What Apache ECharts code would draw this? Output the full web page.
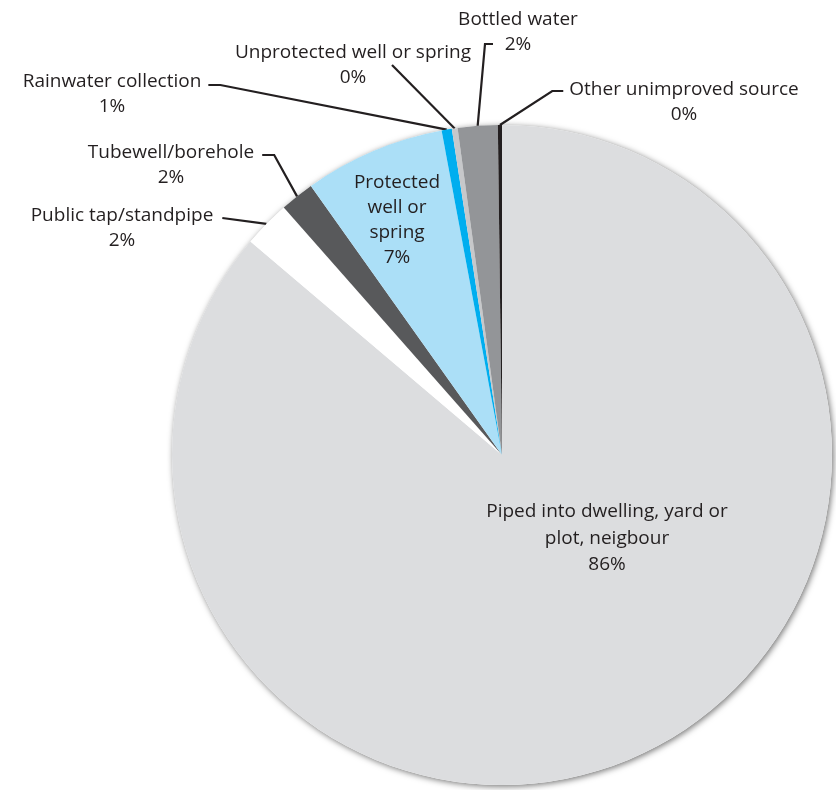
<!DOCTYPE html>
<html><head><meta charset="utf-8">
<script src="https://cdn.jsdelivr.net/npm/echarts@6/dist/echarts.min.js"></script>
<style>html,body{margin:0;padding:0;background:#fff}#c{width:836px;height:790px}</style>
</head><body><div id="c"></div>
<script>
// ---- data ----
const categories = [
  'Piped into dwelling, yard or\nplot, neigbour',
  'Public tap/standpipe',
  'Tubewell/borehole',
  'Protected\nwell or\nspring',
  'Rainwater collection',
  'Unprotected well or spring',
  'Bottled water',
  'Other unimproved source'
];
const values = [86.2, 2.3, 1.67, 6.9, 0.5, 0.28, 1.95, 0.2];
const percentLabels = ['86%', '2%', '2%', '7%', '1%', '0%', '2%', '0%'];

// ---- style / layout (kept apart from data) ----
const colors = ['#dcdddf', '#ffffff', '#58595b', '#abdff7', '#00aeef', '#c7c8ca', '#939598', '#231f20'];
const insideIdx = [0, 3];
const labelCentres = [[607, 512], [122, 216], [171, 153], [397, 183], [112, 82], [353, 53], [518, 20], [684, 90]];
const leaders = [
  null,
  { side: 'right', gap: 9, dy: 2, elbow: 0 },
  { side: 'right', gap: 8, dy: 2, elbow: 12 },
  null,
  { side: 'right', gap: 7, dy: 3, elbow: 12 },
  { free: [39, 12], elbow: 0 },
  { free: [-25, 24], elbow: -8 },
  { side: 'left', gap: 6, dy: 1, elbow: -11 }
];
const FONT = 'Open Sans';
const FS = 19;

const chart = echarts.init(document.getElementById('c'), null, { renderer: 'canvas' });

const data = categories.map((n, i) => {
  const inside = insideIdx.indexOf(i) >= 0;
  return {
    name: n,
    value: values[i],
    itemStyle: { color: colors[i] },
    label: { position: inside ? 'inside' : 'outside', lineHeight: i === 0 ? 26.5 : 25 },
    labelLine: { show: !inside }
  };
});

chart.setOption({
  backgroundColor: '#ffffff',
  animation: false,
  series: [
    {
      type: 'pie',
      silent: true,
      center: [502, 455],
      radius: 330,
      z: 1,
      label: { show: false },
      labelLine: { show: false },
      itemStyle: {
        color: '#ffffff',
        shadowBlur: 6,
        shadowOffsetX: 1.5,
        shadowOffsetY: 1.5,
        shadowColor: 'rgba(0,0,0,0.55)'
      },
      data: [{ value: 1, name: '' }]
    },
    {
      type: 'pie',
      center: [502, 455],
      radius: 330,
      z: 2,
      startAngle: 90,
      clockwise: true,
      minAngle: 0,
      avoidLabelOverlap: false,
      percentPrecision: 0,
      itemStyle: { borderWidth: 0 },
      label: {
        show: true,
        color: '#231f20',
        fontFamily: FONT,
        fontSize: FS,
        lineHeight: 25,
        align: 'center',
        edgeDistance: 0,
        formatter: p => p.name + '\n' + percentLabels[p.dataIndex]
      },
      labelLine: {
        show: true,
        length: 10,
        length2: 10,
        lineStyle: { color: '#231f20', width: 2.2 }
      },
      labelLayout: function (params) {
        const i = params.dataIndex;
        const c = labelCentres[i];
        const lh = i === 0 ? 26.5 : 25;
        const res = { x: c[0], y: c[1] - lh / 2, align: 'center', verticalAlign: 'top' };
        const L = leaders[i];
        if (L && params.labelLinePoints) {
          const p0 = params.labelLinePoints[0];
          const w = params.labelRect.width;
          let end;
          if (L.free) end = [c[0] + L.free[0], c[1] + L.free[1]];
          else end = [L.side === 'right' ? c[0] + w / 2 + L.gap : c[0] - w / 2 - L.gap, c[1] + L.dy];
          const pts = [[p0[0], p0[1]]];
          if (L.elbow) pts.push([end[0] + L.elbow, end[1]]);
          pts.push(end);
          res.labelLinePoints = pts;
        }
        return res;
      },
      data: data
    }
  ]
});
</script>
</body></html>
